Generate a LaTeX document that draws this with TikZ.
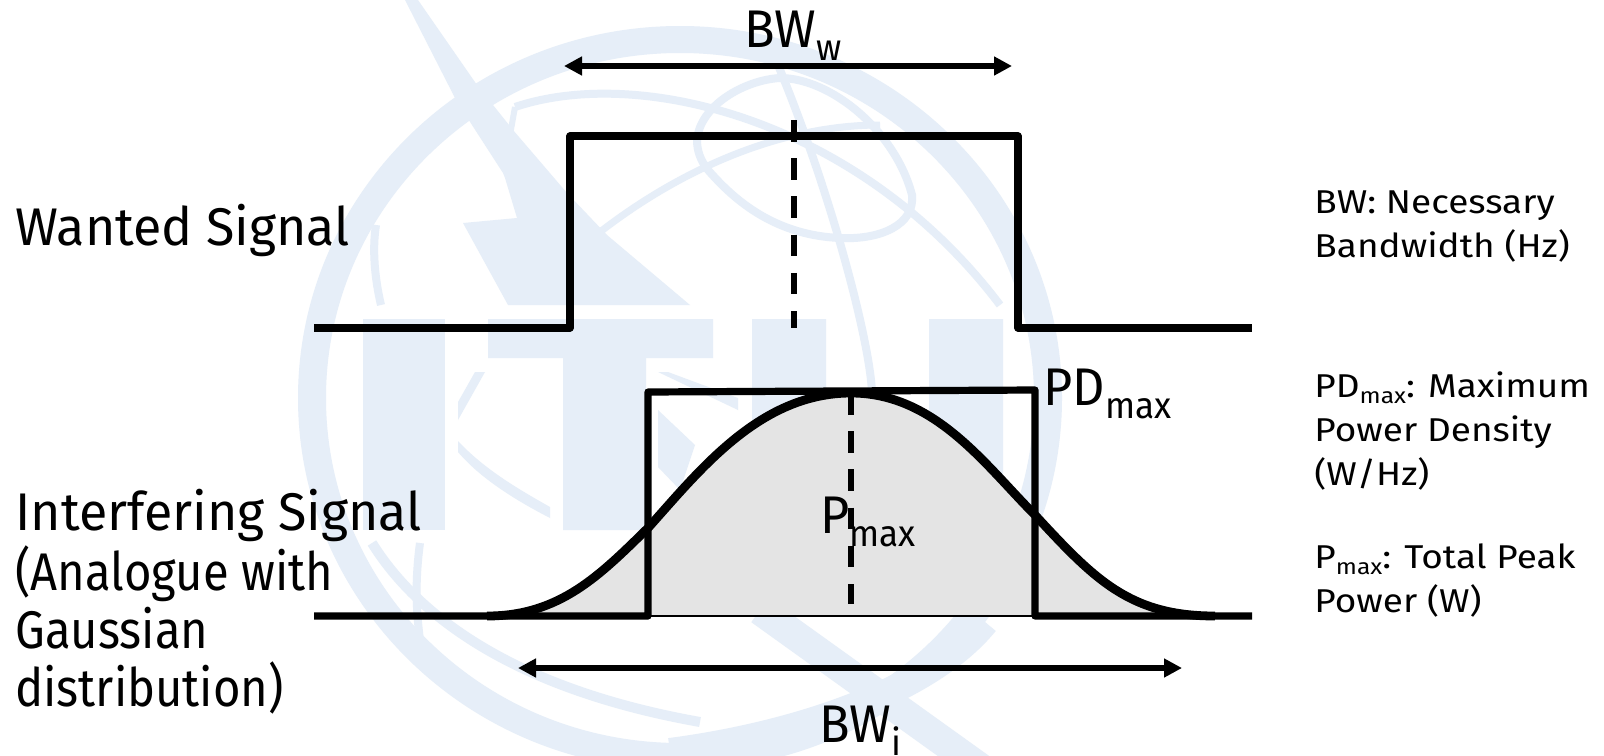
\documentclass[tikz,border=0pt]{standalone}
\usepackage{fontspec}
\setmainfont{Fira Sans}
\newfontfamily\labelfont[FakeStretch=0.98]{Fira Sans}
\newfontfamily\notefont[FakeStretch=0.89]{Fira Sans}
\newfontfamily\symfont[FakeStretch=0.95]{Fira Sans}
\newfontfamily\sidefont[FakeStretch=1.12]{Fira Sans}
\usetikzlibrary{arrows.meta}
\definecolor{wm}{HTML}{E6EEF8}
\definecolor{greyfill}{HTML}{E4E4E4}
\newcommand{\labeltxt}{\fontsize{26.5}{29}\labelfont}
\newcommand{\notetxt}{\fontsize{26.5}{29}\notefont}
\newcommand{\symtxt}{\fontsize{26.5}{29}\symfont}
\newcommand{\sidetxt}{\fontsize{16.5}{22}\sidefont}
\newcommand{\bsb}[1]{\lower6.5pt\hbox{\fontsize{18.5}{18.5}\selectfont #1}}
\newcommand{\ssb}[1]{\lower3pt\hbox{\fontsize{11}{11}\selectfont #1}}
\def\gausspath{(487,616) .. controls (560,616) and (600,575) .. (648,528) .. controls (700,470) and (760,393) .. (851,393) .. controls (935,393) and (985,465) .. (1035,515) .. controls (1095,580) and (1130,616) .. (1215,616)}
\tikzset{
  signal/.style={line width=3.6pt,line join=round},
  gausscurve/.style={line width=4.4pt,line join=round},
  axisdash/.style={line width=2.7pt,dash pattern=on 10.8pt off 8.3pt},
  dim/.style={line width=2.8pt,{Triangle[length=9pt,width=9pt]}-{Triangle[length=9pt,width=9pt]}},
  bigtext/.style={inner sep=0pt,anchor=base west,font=\labeltxt,align=left},
  notetext/.style={inner sep=0pt,anchor=base west,font=\notetxt,align=left},
  symtext/.style={inner sep=0pt,anchor=base west,font=\symtxt},
  sidetext/.style={inner sep=0pt,anchor=base west,font=\sidetxt,align=left},
  wmline/.style={draw=wm,line width=4pt,fill=none}
}
\begin{document}
\begin{tikzpicture}[x=0.5pt,y=-0.5pt]
\useasboundingbox (0,0) rectangle (1604,755);
\fill[white] (0,0) rectangle (1604,755);
\begin{scope}
\clip (0,0) rectangle (1604,755);
\fill[wm,even odd rule] (680,398) ellipse [x radius=382,y radius=372] (680,398) ellipse [x radius=354,y radius=345];
\fill[wm] (363,319) rectangle (445,530);
\fill[wm] (488,319) rectangle (713,358) (563,319) rectangle (646,530);
\fill[wm] (752,319) -- (826,319) -- (826,490) .. controls (826,520) and (929,520) .. (929,490) -- (929,319) -- (1003,319) -- (1003,500) .. controls (1000,545) and (780,545) .. (752,500) -- cycle;
\draw[wmline] (515,107) .. controls (640,65) and (860,120) .. (1000,305);
\draw[wmline,line width=3.5pt] (600,232) .. controls (680,170) and (780,125) .. (880,125);
\draw[wmline] (697,140) .. controls (700,105) and (745,80) .. (780,78) .. controls (830,78) and (895,130) .. (912,195) .. controls (915,225) and (880,240) .. (840,238) .. controls (770,235) and (730,195) .. (708,170) .. controls (700,160) and (697,150) .. (697,140);
\draw[wmline] (778,65) .. controls (830,190) and (870,340) .. (872,393);
\draw[wmline] (376,225) .. controls (372,250) and (375,280) .. (381,305);
\draw[wmline,line width=3pt] (515,107) -- (510,135);
\fill[wm] (405,0) -- (418,0) -- (477,85) -- (513,130) -- (567,193) -- (607,235) -- (690,305) -- (508,305) -- (463,223) -- (517,218) -- (505,178) -- (503,173) -- (472,125) -- (455,98) -- cycle;
\fill[wm] (475,372) -- (485,372) -- (458,420) -- (458,402) -- cycle;
\fill[wm] (458,441) .. controls (485,470) and (520,490) .. (550,507) -- (550,518) .. controls (515,500) and (480,478) .. (458,452) -- cycle;
\fill[wm] (658,372) -- (668,372) -- (738,398) -- (738,410) -- cycle;
\fill[wm] (658,410) -- (695,445) -- (680,490) -- (658,467) -- cycle;
\draw[wmline,line width=5pt] (372,543) .. controls (420,620) and (520,690) .. (700,722);
\draw[wmline] (420,543) .. controls (415,580) and (416,610) .. (420,640);
\draw[wmline,line width=14pt] (985,622) .. controls (930,690) and (800,735) .. (670,752);
\draw[wmline,line width=15pt] (760,610) -- (990,775);
\end{scope}
\coordinate (bl1) at (314,328); \coordinate (r1) at (570,328); \coordinate (tl1) at (570,136);
\coordinate (tr1) at (1018,136); \coordinate (b1) at (1018,328); \coordinate (br1) at (1252,328);
\coordinate (dt1) at (794,120); \coordinate (db1) at (794,328);
\coordinate (bl2) at (314,616); \coordinate (r2) at (648,616); \coordinate (tl2) at (648,392);
\coordinate (tr2) at (1035,390); \coordinate (b2) at (1035,616); \coordinate (br2) at (1252,616);
\coordinate (dt2) at (851,393); \coordinate (db2) at (851,604);
\coordinate (a1) at (564,66); \coordinate (a2) at (1012,66);
\coordinate (a3) at (518,668); \coordinate (a4) at (1182,668);
\fill[greyfill] \gausspath -- cycle;
\draw[line width=0.7pt] (r2) -- (b2);
\draw[signal] (bl1) -- (r1) -- (tl1) -- (tr1) -- (b1) -- (br1);
\draw[axisdash] (dt1) -- (db1);
\draw[signal] (bl2) -- (r2) -- (tl2) -- (tr2) -- (b2) -- (br2);
\draw[axisdash] (dt2) -- (db2);
\draw[gausscurve] \gausspath;
\draw[dim] (a1) -- (a2);
\draw[dim] (a3) -- (a4);
\node[symtext] (bww) at (744,47) {BW\bsb{w}};
\node[bigtext] (wanted) at (15,245) {Wanted Signal};
\node[symtext] (pdmax) at (1043,405) {PD\bsb{max}};
\node[symtext] (pmax) at (820,533) {P\bsb{max}};
\node[bigtext] (interf) at (15,530) {Interfering Signal};
\node[notetext] (analogue) at (15,706) {(Analogue with\\Gaussian\\distribution)};
\node[symtext] (bwi) at (819,742) {BW\bsb{i}};
\node[sidetext] (s1) at (1314,257) {BW: Necessary\\Bandwidth (Hz)};
\node[sidetext] (s2) at (1314,485) {PD\ssb{max}: Maximum\\Power Density\\(W/Hz)};
\node[sidetext] (s3) at (1314,612) {P\ssb{max}: Total Peak\\Power (W)};
\end{tikzpicture}
\end{document}
